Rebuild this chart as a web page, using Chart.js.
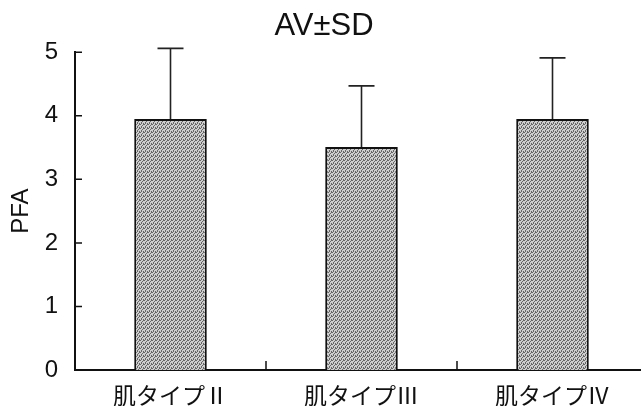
<!DOCTYPE html>
<html>
<head>
<meta charset="utf-8">
<script src="https://cdn.jsdelivr.net/npm/chart.js@4"></script>
<style>
  html, body { margin: 0; padding: 0; background: #fff; overflow: hidden; }
  #wrap { width: 648px; height: 406px; }
</style>
</head>
<body>
<div id="wrap"><canvas id="chart"></canvas></div>
<script>
// données
const categories = ["肌タイプⅡ", "肌タイプⅢ", "肌タイプⅣ"];
const moyennes = [3.95, 3.51, 3.95];
const ecarts = [1.11, 0.96, 0.96];
const yTicks = [0, 1, 2, 3, 4, 5];

// motif gris pointillé des barres
function motifGris() {
  const c = document.createElement("canvas");
  c.width = 4; c.height = 4;
  const g = c.getContext("2d");
  g.fillStyle = "#cecece";
  g.fillRect(0, 0, 4, 4);
  g.fillStyle = "#666";
  [[0, 0], [2, 1], [1, 2], [3, 3], [3, 0], [1, 3]].forEach(p => g.fillRect(p[0], p[1], 1, 1));
  return g.createPattern(c, "repeat");
}

// barres d'erreur (moitié haute seulement)
const errorBars = {
  id: "errorBars",
  afterDatasetsDraw(chart) {
    const ctx = chart.ctx;
    const y = chart.scales.y;
    const meta = chart.getDatasetMeta(0);
    ctx.save();
    ctx.strokeStyle = "#222";
    ctx.lineWidth = 1.6;
    meta.data.forEach((bar, i) => {
      const top = y.getPixelForValue(moyennes[i] + ecarts[i]);
      ctx.beginPath();
      ctx.moveTo(bar.x, bar.y);
      ctx.lineTo(bar.x, top);
      ctx.moveTo(bar.x - 13, top);
      ctx.lineTo(bar.x + 13, top);
      ctx.stroke();
    });
    ctx.restore();
  }
};

// graduations vers l'intérieur
const ticksInterieurs = {
  id: "ticksInterieurs",
  afterDraw(chart) {
    const ctx = chart.ctx;
    const x = chart.scales.x, y = chart.scales.y;
    const area = chart.chartArea;
    ctx.save();
    ctx.strokeStyle = "#111";
    ctx.lineWidth = 1.5;
    ctx.beginPath();
    yTicks.forEach(v => {
      const py = y.getPixelForValue(v);
      ctx.moveTo(area.left, py);
      ctx.lineTo(area.left + 7, py);
    });
    for (let i = 0; i < categories.length - 1; i++) {
      const px = (x.getPixelForValue(i) + x.getPixelForValue(i + 1)) / 2;
      ctx.moveTo(px, area.bottom);
      ctx.lineTo(px, area.bottom - 9);
    }
    ctx.stroke();
    ctx.restore();
  }
};

new Chart(document.getElementById("chart"), {
  type: "bar",
  data: {
    labels: categories,
    datasets: [{
      data: moyennes,
      backgroundColor: motifGris(),
      borderColor: "#111",
      borderWidth: 2,
      categoryPercentage: 1,
      barPercentage: 0.38
    }]
  },
  options: {
    responsive: true,
    maintainAspectRatio: false,
    animation: false,
    layout: { padding: 0 },
    plugins: {
      legend: { display: false },
      tooltip: { enabled: false },
      title: {
        display: true,
        text: "AV±SD",
        color: "#111",
        font: { family: "Liberation Sans", size: 31, weight: "normal" },
        padding: { top: 8, bottom: 7 }
      }
    },
    scales: {
      x: {
        grid: { display: false },
        border: { color: "#111", width: 2 },
        ticks: {
          color: "#111",
          padding: 3,
          font: { family: "'Noto Sans CJK JP', 'Liberation Sans'", size: 23 }
        },
        afterFit: s => { s.height = 36; }
      },
      y: {
        min: 0,
        max: 5,
        grid: { display: false },
        border: { color: "#111", width: 2 },
        afterBuildTicks: s => { s.ticks = yTicks.map(v => ({ value: v })); },
        ticks: {
          color: "#111",
          padding: 9,
          font: { family: "Liberation Sans", size: 24 }
        },
        title: {
          display: true,
          text: "PFA",
          color: "#111",
          font: { family: "Liberation Sans", size: 24 },
          padding: { top: 7, bottom: 4 }
        },
        afterFit: s => { s.width = 75; }
      }
    }
  },
  plugins: [errorBars, ticksInterieurs]
});
</script>
</body>
</html>
